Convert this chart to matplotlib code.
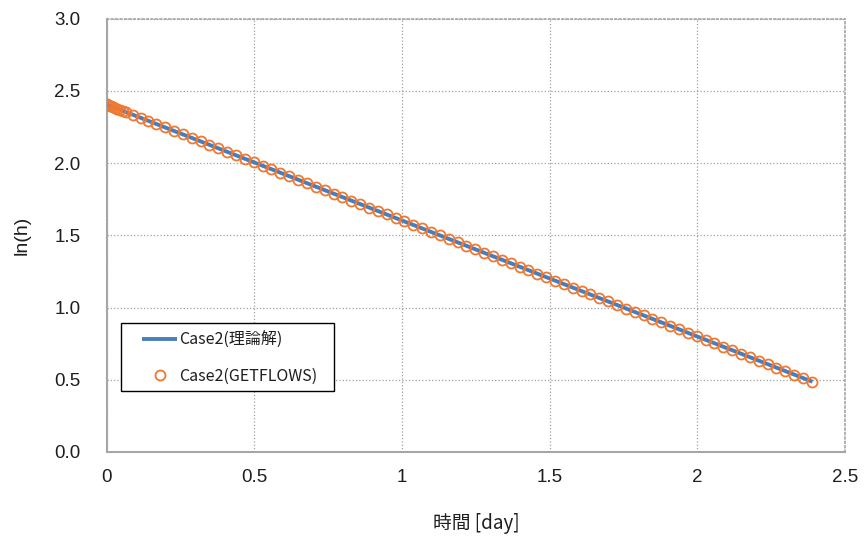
import matplotlib
matplotlib.use("Agg")
import matplotlib.pyplot as plt
from matplotlib.patches import Rectangle

plt.rcParams['font.family'] = ['Liberation Sans', 'Noto Sans CJK JP', 'DejaVu Sans']

# Theoretical solution (straight line in ln(h))
theory_t = [0.0, 2.39]
theory_lnh = [2.405, 0.486]

# GETFLOWS output
sim_t = [0.000, 0.003, 0.006, 0.010, 0.015, 0.020, 0.027, 0.035, 0.045, 0.055, 0.065,
         0.090, 0.115, 0.140,
         0.168, 0.198, 0.228, 0.258, 0.288, 0.318, 0.348, 0.378, 0.408, 0.438, 0.468,
         0.498, 0.528, 0.558, 0.588, 0.618, 0.648, 0.678, 0.708, 0.738, 0.768, 0.798,
         0.828, 0.858, 0.888, 0.918, 0.948, 0.978, 1.008, 1.038, 1.068, 1.098, 1.128,
         1.158, 1.188, 1.218, 1.248, 1.278, 1.308, 1.338, 1.368, 1.398, 1.428, 1.458,
         1.488, 1.518, 1.548, 1.578, 1.608, 1.638, 1.668, 1.698, 1.728, 1.758, 1.788,
         1.818, 1.848, 1.878, 1.908, 1.938, 1.968, 1.998, 2.028, 2.058, 2.088, 2.118,
         2.148, 2.178, 2.208, 2.238, 2.268, 2.298, 2.328, 2.358, 2.388]
sim_lnh = [2.405, 2.403, 2.400, 2.397, 2.393, 2.389, 2.383, 2.377, 2.369, 2.361, 2.353,
           2.333, 2.313, 2.293,
           2.270, 2.246, 2.222, 2.198, 2.174, 2.150, 2.126, 2.101, 2.077, 2.053, 2.029,
           2.005, 1.981, 1.957, 1.933, 1.909, 1.885, 1.861, 1.836, 1.812, 1.788, 1.764,
           1.740, 1.716, 1.692, 1.668, 1.644, 1.620, 1.596, 1.571, 1.547, 1.523, 1.499,
           1.475, 1.451, 1.427, 1.403, 1.379, 1.355, 1.331, 1.307, 1.282, 1.258, 1.234,
           1.210, 1.186, 1.162, 1.138, 1.114, 1.090, 1.066, 1.042, 1.017, 0.993, 0.969,
           0.945, 0.921, 0.897, 0.873, 0.849, 0.825, 0.801, 0.777, 0.752, 0.728, 0.704,
           0.680, 0.656, 0.632, 0.608, 0.584, 0.560, 0.536, 0.512, 0.487]

x_ticks = [0, 0.5, 1, 1.5, 2, 2.5]
x_tick_labels = ['0', '0.5', '1', '1.5', '2', '2.5']
y_ticks = [0.0, 0.5, 1.0, 1.5, 2.0, 2.5, 3.0]
y_tick_labels = ['0.0', '0.5', '1.0', '1.5', '2.0', '2.5', '3.0']

label_theory = 'Case2(理論解)'
label_sim = 'Case2(GETFLOWS)'

W, H = 864, 545
fig = plt.figure(figsize=(W / 100, H / 100), dpi=100)
L, R, T, B = 106.7, 845, 18.5, 452
ax = fig.add_axes([L / W, 1 - B / H, (R - L) / W, (B - T) / H])

text_color = '#1e1e1e'
ln_theory, = ax.plot(theory_t, theory_lnh, color='#4A7EBB', lw=2.8, solid_capstyle='butt', zorder=3)
ln_sim, = ax.plot(sim_t, sim_lnh, ls='none', marker='o', ms=7.2, mfc='none', mec='#F07830',
                  mew=1.3, zorder=4)

ax.set_xlim(0, 2.5)
ax.set_ylim(0, 3.0)
ax.set_xticks(x_ticks)
ax.set_xticklabels(x_tick_labels)
ax.set_yticks(y_ticks)
ax.set_yticklabels(y_tick_labels)
ax.tick_params(axis='both', length=0, labelsize=13.5, colors=text_color)
ax.tick_params(axis='x', pad=12)
ax.tick_params(axis='y', pad=19)

ax.grid(True, ls=':', color='#A0A0A0', lw=0.9)
ax.set_axisbelow(True)
for k, s in ax.spines.items():
    s.set_color('#A6A6A6')
    if k in ('left', 'bottom'):
        s.set_linewidth(1.5)
    else:
        s.set_linewidth(1.2)
        s.set_linestyle(':')

ax.set_ylabel('ln(h)', fontsize=14, color=text_color, labelpad=17)
ax.set_xlabel('時間 [day]', fontsize=13.5, color=text_color, labelpad=20,
              family=['Noto Sans CJK JP', 'DejaVu Sans'])

# legend frame
x0 = (121 - L) / (R - L); x1 = (334 - L) / (R - L)
y0 = (B - 391) / (B - T); y1 = (B - 322.7) / (B - T)
ax.add_patch(Rectangle((x0, y0), x1 - x0, y1 - y0, transform=ax.transAxes,
                       facecolor='white', edgecolor='black', lw=1.0, zorder=5))
leg = ax.legend([ln_theory, ln_sim], [label_theory, label_sim], loc='upper left',
                bbox_to_anchor=((142 - L) / (R - L), (B - 332) / (B - T)),
                frameon=False, borderpad=0, borderaxespad=0, handlelength=2.2,
                handletextpad=0.12, labelspacing=1.15,
                prop={'family': ['Noto Sans CJK JP', 'DejaVu Sans'], 'size': 11.5})
leg.set_zorder(6)
for t in leg.get_texts():
    t.set_color(text_color)

fig.savefig('out.png', dpi=100)
